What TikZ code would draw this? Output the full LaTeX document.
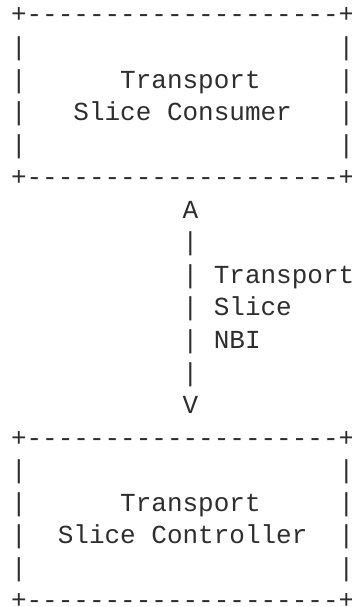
\documentclass[tikz,border=0pt]{standalone}
\usepackage{fontspec}
\setmonofont{Liberation Mono}
% one character cell: 15.6pt wide, one text row: 32.55pt high
\newcommand\cellx[1]{11+#1*15.6}
\newcommand\rowy[1]{607-23-#1*32.55}
\newcommand\dashrow{+{-}{-}{-}{-}{-}{-}{-}{-}{-}{-}{-}{-}{-}{-}{-}{-}{-}{-}{-}{-}+}
\begin{document}
\begin{tikzpicture}[x=1pt,y=1pt,
  txt/.style={anchor=base west, inner sep=0pt, outer sep=0pt,
    font=\ttfamily\fontsize{26}{31}\selectfont, text=black!82}]
\useasboundingbox (0,0) rectangle (352,607);
\fill[white] (0,0) rectangle (352,607);

% consumer box
\node[txt] (ctop) at ({\cellx{0}},{\rowy{0}}) {\dashrow};
\foreach \r in {1,2,3,4}{
  \node[txt] (cl\r) at ({\cellx{0}},{\rowy{\r}}) {|};
  \node[txt] (cr\r) at ({\cellx{21}},{\rowy{\r}}) {|};
}
\node[txt] (cname1) at ({\cellx{7}},{\rowy{2}}) {Transport};
\node[txt] (cname2) at ({\cellx{4}},{\rowy{3}}) {Slice Consumer};
\node[txt] (cbot) at ({\cellx{0}},{\rowy{5}}) {\dashrow};

% NBI link
\node[txt] (up) at ({\cellx{11}},{\rowy{6}}) {A};
\foreach \r in {7,8,9,10,11}{
  \node[txt] (bar\r) at ({\cellx{11}},{\rowy{\r}}) {|};
}
\node[txt] (nbi1) at ({\cellx{13}},{\rowy{8}}) {Transport};
\node[txt] (nbi2) at ({\cellx{13}},{\rowy{9}}) {Slice};
\node[txt] (nbi3) at ({\cellx{13}},{\rowy{10}}) {NBI};
\node[txt] (down) at ({\cellx{11}},{\rowy{12}}) {V};

% controller box
\node[txt] (ttop) at ({\cellx{0}},{\rowy{13}}) {\dashrow};
\foreach \r in {14,15,16,17}{
  \node[txt] (tl\r) at ({\cellx{0}},{\rowy{\r}}) {|};
  \node[txt] (tr\r) at ({\cellx{21}},{\rowy{\r}}) {|};
}
\node[txt] (tname1) at ({\cellx{7}},{\rowy{15}}) {Transport};
\node[txt] (tname2) at ({\cellx{3}},{\rowy{16}}) {Slice Controller};
\node[txt] (tbot) at ({\cellx{0}},{\rowy{18}}) {\dashrow};
\end{tikzpicture}
\end{document}
